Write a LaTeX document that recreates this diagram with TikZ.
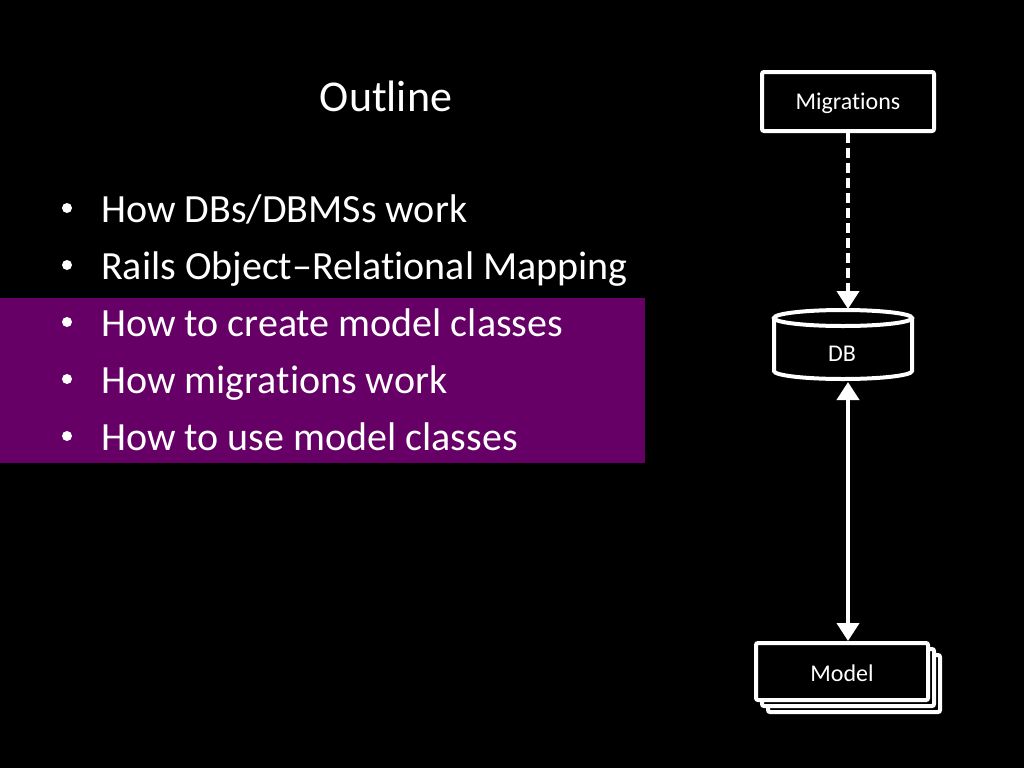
\documentclass[tikz,border=0pt]{standalone}
\usepackage{fontspec}
\setmainfont{Carlito}[RawFeature={-liga;-clig}]
\usetikzlibrary{arrows.meta}
\definecolor{hlpurple}{RGB}{102,0,102}
\tikzset{
  bullettext/.style={anchor=base west, text=white, font=\fontsize{40}{48}\selectfont, inner sep=0pt},
  bulletdot/.style={circle, fill=white, inner sep=0pt, minimum size=10pt},
  boxline/.style={draw=white, line width=4pt, rounded corners=2pt, fill=black},
  conn/.style={draw=white, line width=4pt},
  tip/.style={-{Triangle[length=18pt,width=22pt]}},
  smalltext/.style={text=white, font=\fontsize{24}{28}\selectfont, inner sep=0pt}
}
\begin{document}
\begin{tikzpicture}[x=1pt,y=-1pt]
\useasboundingbox (0,0) rectangle (1024,768);
\fill[black] (0,0) rectangle (1024,768);
\fill[hlpurple] (0,298) rectangle (645,463);
\node[text=white, font=\fontsize{44}{52}\selectfont, inner sep=0pt] (title) at (386,96) {Outline};
% bullets
\foreach \i/\t/\y in {1/How DBs\slash DBMSs work/222,2/Rails Object–Relational Mapping/279,3/How to create model classes/336,4/How migrations work/393,5/How to use model classes/450}{
  \node[bulletdot] (b\i) at (67,\y-14) {};
  \node[bullettext] (t\i) at (101,\y) {\t};
}
% Migrations
\node[boxline, minimum width=172pt, minimum height=59pt, inner sep=0pt] (mig) at (848,101.5) {};
\node[smalltext] (migl) at (848,103) {Migrations};
% DB cylinder
\coordinate (db) at (843,345);
\draw[white, line width=4pt, fill=black] (774,318) -- (774,371) arc[start angle=180, end angle=0, x radius=69, y radius=8] -- (912,318);
\draw[white, line width=4pt, fill=black] (843,318) ellipse[x radius=69, y radius=8];
\node[smalltext] (dbl) at (842,354) {DB};
\coordinate (dbtop) at (848,309);
\coordinate (dbbot) at (848,382);
% Model stack
\draw[boxline] (768,655) rectangle (940,712);
\draw[boxline] (762,649) rectangle (934,706);
\node[boxline, minimum width=172pt, minimum height=57pt, inner sep=0pt] (model) at (842,671.5) {};
\node[smalltext] (modell) at (842,673) {Model};
% connectors
\draw[conn, tip, dash pattern=on 10pt off 5pt] (mig.south -| dbtop) -- (dbtop);
\draw[conn, {Triangle[length=18pt,width=22pt]}-{Triangle[length=18pt,width=22pt]}] (dbbot) -- (model.north -| dbbot);
\end{tikzpicture}
\end{document}
